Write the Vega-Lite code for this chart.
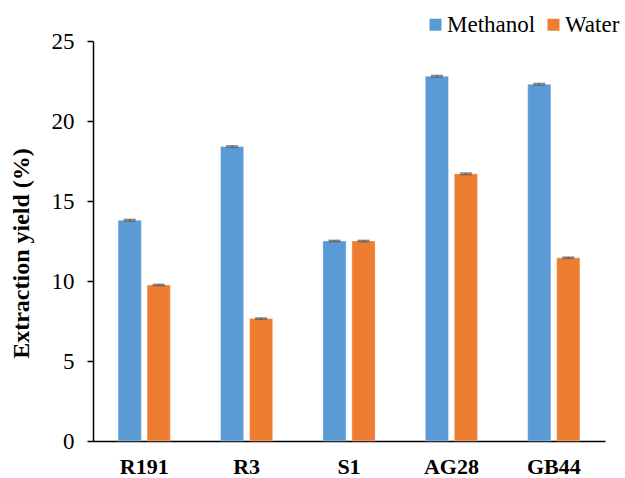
{
  "$schema": "https://vega.github.io/schema/vega-lite/v6.json",
  "width": 512,
  "height": 400,
  "autosize": {"type": "none"},
  "padding": {"left": 93, "top": 41, "right": 20, "bottom": 37},
  "background": "white",
  "config": {
    "view": {"stroke": null},
    "font": "Liberation Serif",
    "legend": {"labelFont": "Liberation Serif", "labelFontSize": 23, "labelColor": "black"}
  },
  "data": {
    "values": [
      {"sample": "R191", "solvent": "Methanol", "yield": 13.8, "err": 0.05},
      {"sample": "R191", "solvent": "Water", "yield": 9.75, "err": 0.04},
      {"sample": "R3", "solvent": "Methanol", "yield": 18.4, "err": 0.05},
      {"sample": "R3", "solvent": "Water", "yield": 7.65, "err": 0.04},
      {"sample": "S1", "solvent": "Methanol", "yield": 12.5, "err": 0.04},
      {"sample": "S1", "solvent": "Water", "yield": 12.5, "err": 0.04},
      {"sample": "AG28", "solvent": "Methanol", "yield": 22.8, "err": 0.05},
      {"sample": "AG28", "solvent": "Water", "yield": 16.7, "err": 0.05},
      {"sample": "GB44", "solvent": "Methanol", "yield": 22.3, "err": 0.05},
      {"sample": "GB44", "solvent": "Water", "yield": 11.45, "err": 0.04}
    ]
  },
  "transform": [
    {"calculate": "datum.yield + datum.err", "as": "hi"},
    {"calculate": "datum.yield - datum.err", "as": "lo"}
  ],
  "encoding": {
    "x": {
      "field": "sample",
      "type": "nominal",
      "sort": ["R191", "R3", "S1", "AG28", "GB44"],
      "scale": {"paddingInner": 0.49, "paddingOuter": 0.245},
      "axis": {
        "title": null,
        "labelAngle": 0,
        "labelFont": "Liberation Serif",
        "labelFontSize": 22,
        "labelFontWeight": "bold",
        "labelColor": "black",
        "labelPadding": 15,
        "ticks": false,
        "domainColor": "black",
        "domainWidth": 1.5
      }
    },
    "xOffset": {
      "field": "solvent",
      "type": "nominal",
      "scale": {"paddingInner": 0.2, "paddingOuter": 0}
    }
  },
  "layer": [
    {
      "mark": {"type": "bar", "stroke": "white", "strokeOpacity": 0.35, "strokeWidth": 1},
      "encoding": {
        "y": {
          "field": "yield",
          "type": "quantitative",
          "scale": {"domain": [0, 25], "nice": false},
          "axis": {
            "values": [0, 5, 10, 15, 20, 25],
            "title": "Extraction yield (%)",
            "titleFont": "Liberation Serif",
            "titleFontSize": 24,
            "titleFontWeight": "bold",
            "titleColor": "black",
            "titlePadding": 18,
            "titleY": 212,
            "labelFont": "Liberation Serif",
            "labelFontSize": 23,
            "labelColor": "black",
            "labelPadding": 13,
            "tickColor": "black",
            "tickSize": 6,
            "tickWidth": 1.5,
            "domainColor": "black",
            "domainWidth": 1.5,
            "grid": false
          }
        },
        "color": {
          "field": "solvent",
          "type": "nominal",
          "scale": {"domain": ["Methanol", "Water"], "range": ["#5B9BD5", "#ED7D31"]},
          "legend": {
            "title": null,
            "orient": "none",
            "legendX": 331,
            "legendY": -28,
            "direction": "horizontal",
            "symbolType": "square",
            "symbolSize": 144,
            "symbolStrokeWidth": 0,
            "labelFont": "Liberation Serif",
            "labelFontSize": 23,
            "labelColor": "black",
            "labelOffset": 0,
            "columnPadding": 6,
            "padding": 0
          }
        }
      }
    },
    {
      "mark": {"type": "rule", "color": "#595959", "strokeWidth": 1.5},
      "encoding": {
        "y": {"field": "lo", "type": "quantitative"},
        "y2": {"field": "hi"}
      }
    },
    {
      "mark": {"type": "tick", "color": "#595959", "thickness": 1.5, "size": 12},
      "encoding": {
        "y": {"field": "hi", "type": "quantitative"}
      }
    },
    {
      "mark": {"type": "tick", "color": "#595959", "thickness": 1.5, "size": 12},
      "encoding": {
        "y": {"field": "lo", "type": "quantitative"}
      }
    }
  ]
}
